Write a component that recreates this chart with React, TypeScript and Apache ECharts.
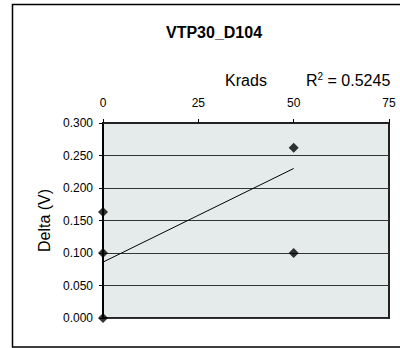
import React, { useEffect, useRef } from "react";
import * as echarts from "echarts";

const TITLE = "VTP30_D104";
const X_NAME = "Krads";
const Y_NAME = "Delta (V)";
const R2_VALUE = "0.5245";
const xTicks = [0, 25, 50, 75];
const pointsX = [0, 0, 0, 50, 50];
const pointsY = [0.163, 0.1, 0.0, 0.262, 0.1];
const trendX = [0, 50];
const trendY = [0.086, 0.23];

const FONT = "Liberation Sans, Arial, sans-serif";

export default function App() {
  const ref = useRef<HTMLDivElement>(null);
  useEffect(() => {
    document.body.style.margin = "0";
    const chart = echarts.init(ref.current!, null, { renderer: "svg" });
    chart.setOption({
      animation: false,
      textStyle: { fontFamily: FONT },
      grid: {
        left: 103,
        top: 123,
        width: 286,
        height: 195,
        show: true,
        backgroundColor: "#e5eaea",
        borderColor: "#222",
        borderWidth: 2,
      },
      xAxis: {
        type: "value",
        position: "top",
        min: xTicks[0],
        max: xTicks[xTicks.length - 1],
        interval: 25,
        name: X_NAME,
        nameLocation: "middle",
        nameGap: 35,
        nameTextStyle: { fontSize: 16, color: "#000", fontFamily: FONT },
        axisLine: { show: true, onZero: false, lineStyle: { color: "#222", width: 2 } },
        axisTick: { show: true, inside: false, length: 4, lineStyle: { color: "#000" } },
        axisLabel: { fontSize: 12, color: "#000", margin: 14, fontFamily: FONT },
        splitLine: { show: false },
      },
      yAxis: {
        type: "value",
        min: 0,
        max: 0.3,
        interval: 0.05,
        name: Y_NAME,
        nameLocation: "middle",
        nameGap: 50,
        nameRotate: 90,
        nameTextStyle: { fontSize: 16, color: "#000", fontFamily: FONT },
        axisLine: { show: true, onZero: false, lineStyle: { color: "#000", width: 2 } },
        axisTick: { show: true, inside: false, length: 4, lineStyle: { color: "#000" } },
        axisLabel: {
          fontSize: 12,
          color: "#000",
          margin: 10,
          fontFamily: FONT,
          formatter: (v: number) => v.toFixed(3),
        },
        splitLine: { show: true, lineStyle: { color: "#333", width: 1 } },
      },
      graphic: [
        {
          type: "rect",
          shape: { x: 12.5, y: 4.5, width: 400, height: 342.5 },
          style: { fill: "none", stroke: "#000", lineWidth: 1.5 },
          silent: true,
        },
        {
          type: "text",
          x: 214,
          y: 32,
          style: {
            text: TITLE,
            fontSize: 16,
            fontWeight: "bold",
            fontFamily: FONT,
            fill: "#000",
            textAlign: "center",
            textVerticalAlign: "middle",
          },
        },
        {
          type: "text",
          x: 306,
          y: 80,
          style: {
            text: "{r|R}{s|2}{r| = " + R2_VALUE + "}",
            textVerticalAlign: "middle",
            rich: {
              r: { fontSize: 16, fontFamily: FONT, fill: "#000", verticalAlign: "bottom" },
              s: { fontSize: 10, fontFamily: FONT, fill: "#000", verticalAlign: "top", padding: [0, 0, 7, 0] },
            },
          },
        },
      ],
      series: [
        {
          type: "line",
          data: trendX.map((x, i) => [x, trendY[i]]),
          symbol: "none",
          lineStyle: { color: "#000", width: 1 },
          silent: true,
          z: 2,
        },
        {
          type: "scatter",
          data: pointsX.map((x, i) => [x, pointsY[i]]),
          symbol: "diamond",
          symbolSize: 10,
          itemStyle: { color: "#000" },
          z: 3,
        },
      ],
    });
    return () => chart.dispose();
  }, []);
  return <div ref={ref} style={{ width: 400, height: 348 }} />;
}
